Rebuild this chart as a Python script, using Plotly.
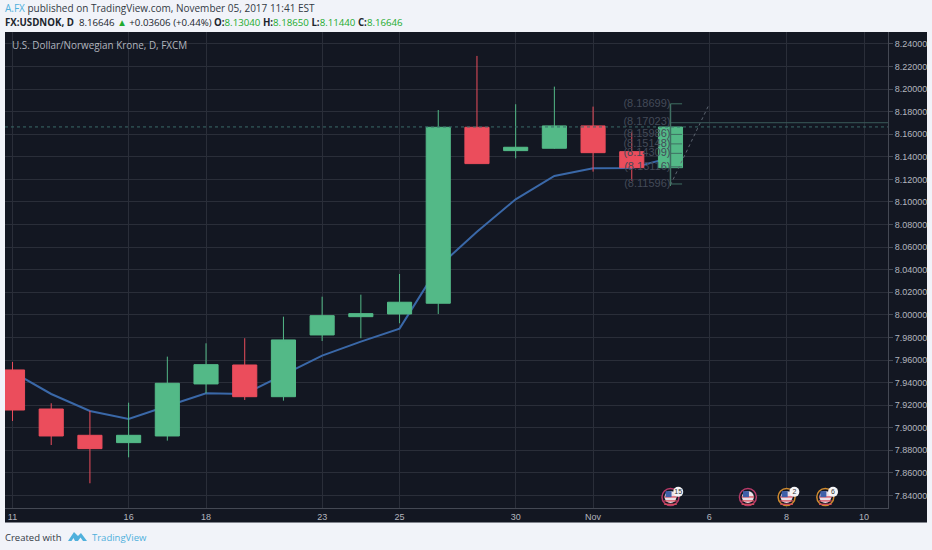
import plotly.graph_objects as go

idx    = list(range(18))
opens  = [7.9512,7.9166,7.8933,7.8868,7.8927,7.9388,7.9556,7.9275,7.9822,7.9984,8.0008,8.0103,8.1662,8.1455,8.1476,8.1674,8.1446,8.1304]
closes = [7.9157,7.8927,7.8815,7.8933,7.9394,7.9559,7.9275,7.9778,7.9993,8.0011,8.0112,8.1662,8.1340,8.1485,8.1674,8.1437,8.1304,8.16646]
highs  = [7.9583,7.9217,7.9149,7.9222,7.9630,7.9748,7.9793,7.9984,8.0161,8.0179,8.0362,8.1815,8.2294,8.1866,8.2022,8.1845,8.1623,8.1865]
lows   = [7.9060,7.8847,7.8508,7.8738,7.8886,7.9305,7.9246,7.9240,7.9769,7.9793,7.9926,8.0008,8.1340,8.1387,8.1470,8.1269,8.1189,8.1144]
ma     = [7.9495,7.9299,7.9149,7.9078,7.9193,7.9305,7.9299,7.9468,7.9639,7.9763,7.9878,8.0424,8.0737,8.1024,8.1231,8.1299,8.1301,8.1393]
proj_x = [17,18]
proj   = [8.1151,8.1866]
fib_levels = [8.18699,8.17023,8.15986,8.15148,8.14309,8.13116,8.11596]
tick_idx = [0,3,5,8,10,13,15,18,20,22]
tick_txt = ['11','16','18','23','25','30','Nov','6','8','10']
price_ticks = [round(7.84+0.02*i,2) for i in range(21)]
events_x = [17,19,20,21]
events_y = 7.8387
events_c = ['#b93a68','#b93a68','#cf8a2e','#cf8a2e']
badge_x = [17,20,21]
badge_t = ['15','2','6']

W, H = 932, 550
L, R, T, B = 5, 888, 32, 508
def px(x): return (x-L)/(R-L)
def py(y): return (B-y)/(B-T)

UP, DOWN = '#53b987', '#eb4d5c'
XR = [-0.194, 22.62]
YR = [7.8289, 8.2506]
fig = go.Figure()

fig.add_trace(go.Scatter(x=idx, y=ma, mode='lines', line=dict(color='#3a68a8', width=2), showlegend=False))
fig.add_trace(go.Candlestick(x=idx, open=opens, high=highs, low=lows, close=closes, xaxis='x2', yaxis='y2',
    increasing=dict(line=dict(color=UP, width=1), fillcolor=UP),
    decreasing=dict(line=dict(color=DOWN, width=1), fillcolor=DOWN),
    whiskerwidth=0, showlegend=False))
fig.add_trace(go.Scatter(x=proj_x, y=proj, mode='lines', xaxis='x2', yaxis='y2',
    line=dict(color='#5c6470', width=1, dash='dot'), showlegend=False))
fig.add_trace(go.Scatter(x=[17]*len(fib_levels), y=fib_levels, mode='text', xaxis='x2', yaxis='y2',
    text=[f'({v:.5f})' for v in fib_levels], textposition='middle left',
    textfont=dict(color='#434a58', size=11, family='Liberation Sans'), showlegend=False))
# calendar-event flags
fig.add_trace(go.Scatter(x=events_x, y=[events_y]*4, mode='markers', xaxis='x2', yaxis='y2',
    marker=dict(size=17, color='#131722', line=dict(color=events_c, width=1.5)), showlegend=False))
fig.add_trace(go.Scatter(x=events_x, y=[events_y]*4, mode='markers', xaxis='x2', yaxis='y2',
    marker=dict(size=12, color='#eadfe6'), showlegend=False))
for dy in (-0.0035, 0.0, -0.0065):
    fig.add_trace(go.Scatter(x=events_x, y=[events_y+dy]*4, mode='markers', xaxis='x2', yaxis='y2',
        marker=dict(size=9, symbol='line-ew', line=dict(color='#d9505f', width=1.3)), showlegend=False))
fig.add_trace(go.Scatter(x=[v-0.05 for v in events_x], y=[events_y+0.0025]*4, mode='markers', xaxis='x2', yaxis='y2',
    marker=dict(size=6, symbol='square', color='#3f5fa8'), showlegend=False))
fig.add_trace(go.Scatter(x=[v+0.2 for v in badge_x], y=[events_y+0.0045]*3, mode='markers+text', xaxis='x2', yaxis='y2',
    marker=dict(size=10, color='#f4f4f6'), text=badge_t, textposition='middle center',
    textfont=dict(size=7, color='#333333', family='Liberation Sans'), showlegend=False))

shapes = [dict(type='rect', xref='paper', yref='paper', x0=px(5), x1=px(927), y0=py(522.5), y1=py(32),
               fillcolor='#131722', line=dict(width=0), layer='below')]
for v in fib_levels:
    long_line = v == 8.17023
    shapes.append(dict(type='line', xref='x', yref='y', x0=17, x1=XR[1] if long_line else 17.3, y0=v, y1=v,
                       line=dict(color='#3a5a5a' if long_line else '#3f6f62', width=1)))
shapes.append(dict(type='line', xref='paper', yref='y', x0=0, x1=1, y0=8.1665, y1=8.1665,
                   line=dict(color='#3a6a68', width=1, dash='dot')))
shapes.append(dict(type='line', xref='x', yref='y', x0=17, x1=17, y0=8.11596, y1=8.18699,
                   line=dict(color='#3f6f62', width=1.5)))
# TradingView logo
def pt(x, y): return f'{px(x):.5f} {py(y):.5f}'
logo = [(68,541),(74,532),(78,536),(81,533),(87,541),(83,541),(80.5,537.5),(78,541),(75,541),(73.5,538),(71.5,541)]
shapes.append(dict(type='path', xref='paper', yref='paper',
    path='M ' + ' L '.join(pt(*p) for p in logo) + ' Z', fillcolor='#4fb0dc', line=dict(width=0)))

axis_font = dict(color='#b2b5be', size=9, family='Liberation Sans')
fig.update_layout(
    width=W, height=H, autosize=False,
    paper_bgcolor='#f1f3f9', plot_bgcolor='#131722',
    margin=dict(l=L, r=W-R, t=T, b=H-B),
    boxgap=0.11, boxgroupgap=0.3,
    font=dict(family='Open Sans', size=10, color='#b2b5be'),
    xaxis=dict(range=XR, tickmode='array', tickvals=tick_idx, ticktext=tick_txt,
               showgrid=True, gridcolor='#2a2e39', zeroline=False, ticks='', showline=True, linecolor='#444853', tickfont=axis_font),
    yaxis=dict(range=YR, side='right', tickmode='array', tickvals=price_ticks,
               ticktext=[f'{v:.5f}' for v in price_ticks], showgrid=True, gridcolor='#2a2e39', zeroline=False,
               ticks='outside', ticklen=4, tickcolor='#444853', showline=True, linecolor='#444853', tickfont=axis_font),
    xaxis2=dict(range=XR, overlaying='x', visible=False, rangeslider=dict(visible=False)),
    yaxis2=dict(range=YR, overlaying='y', visible=False),
    shapes=shapes,
)
def note(x, y, text, size, color='#333a45'):
    fig.add_annotation(xref='paper', yref='paper', xanchor='left', yanchor='middle', x=px(x), y=py(y), showarrow=False,
        align='left', text=text, font=dict(size=size, color=color, family='Open Sans'), borderpad=0)
G = '#22ab2e'
note(4, 8.5, '<span style="color:#4fb0dc">A.FX</span> published on TradingView.com, November 05, 2017 11:41 EST', 10)
note(4, 22, f'<b>FX:USDNOK, D</b>  8.16646 <span style="color:{G}">▲</span> +0.03606 (+0.44%) <b>O:</b><span style="color:{G}">8.13040</span> <b>H:</b><span style="color:{G}">8.18650</span> <b>L:</b><span style="color:{G}">8.11440</span> <b>C:</b><span style="color:{G}">8.16646</span>', 9.7, '#20252d')
note(11, 45, 'U.S. Dollar/Norwegian Krone, D, FXCM', 9.9, '#b2b5be')
note(4, 537, 'Created with', 9.5)
note(91, 537, 'TradingView', 9.5, '#4fb0dc')
fig.write_html('out.html', config={'displayModeBar': False},
    post_script="document.body.style.margin='0';document.body.style.overflow='hidden';document.body.style.background='#f1f3f9';")
